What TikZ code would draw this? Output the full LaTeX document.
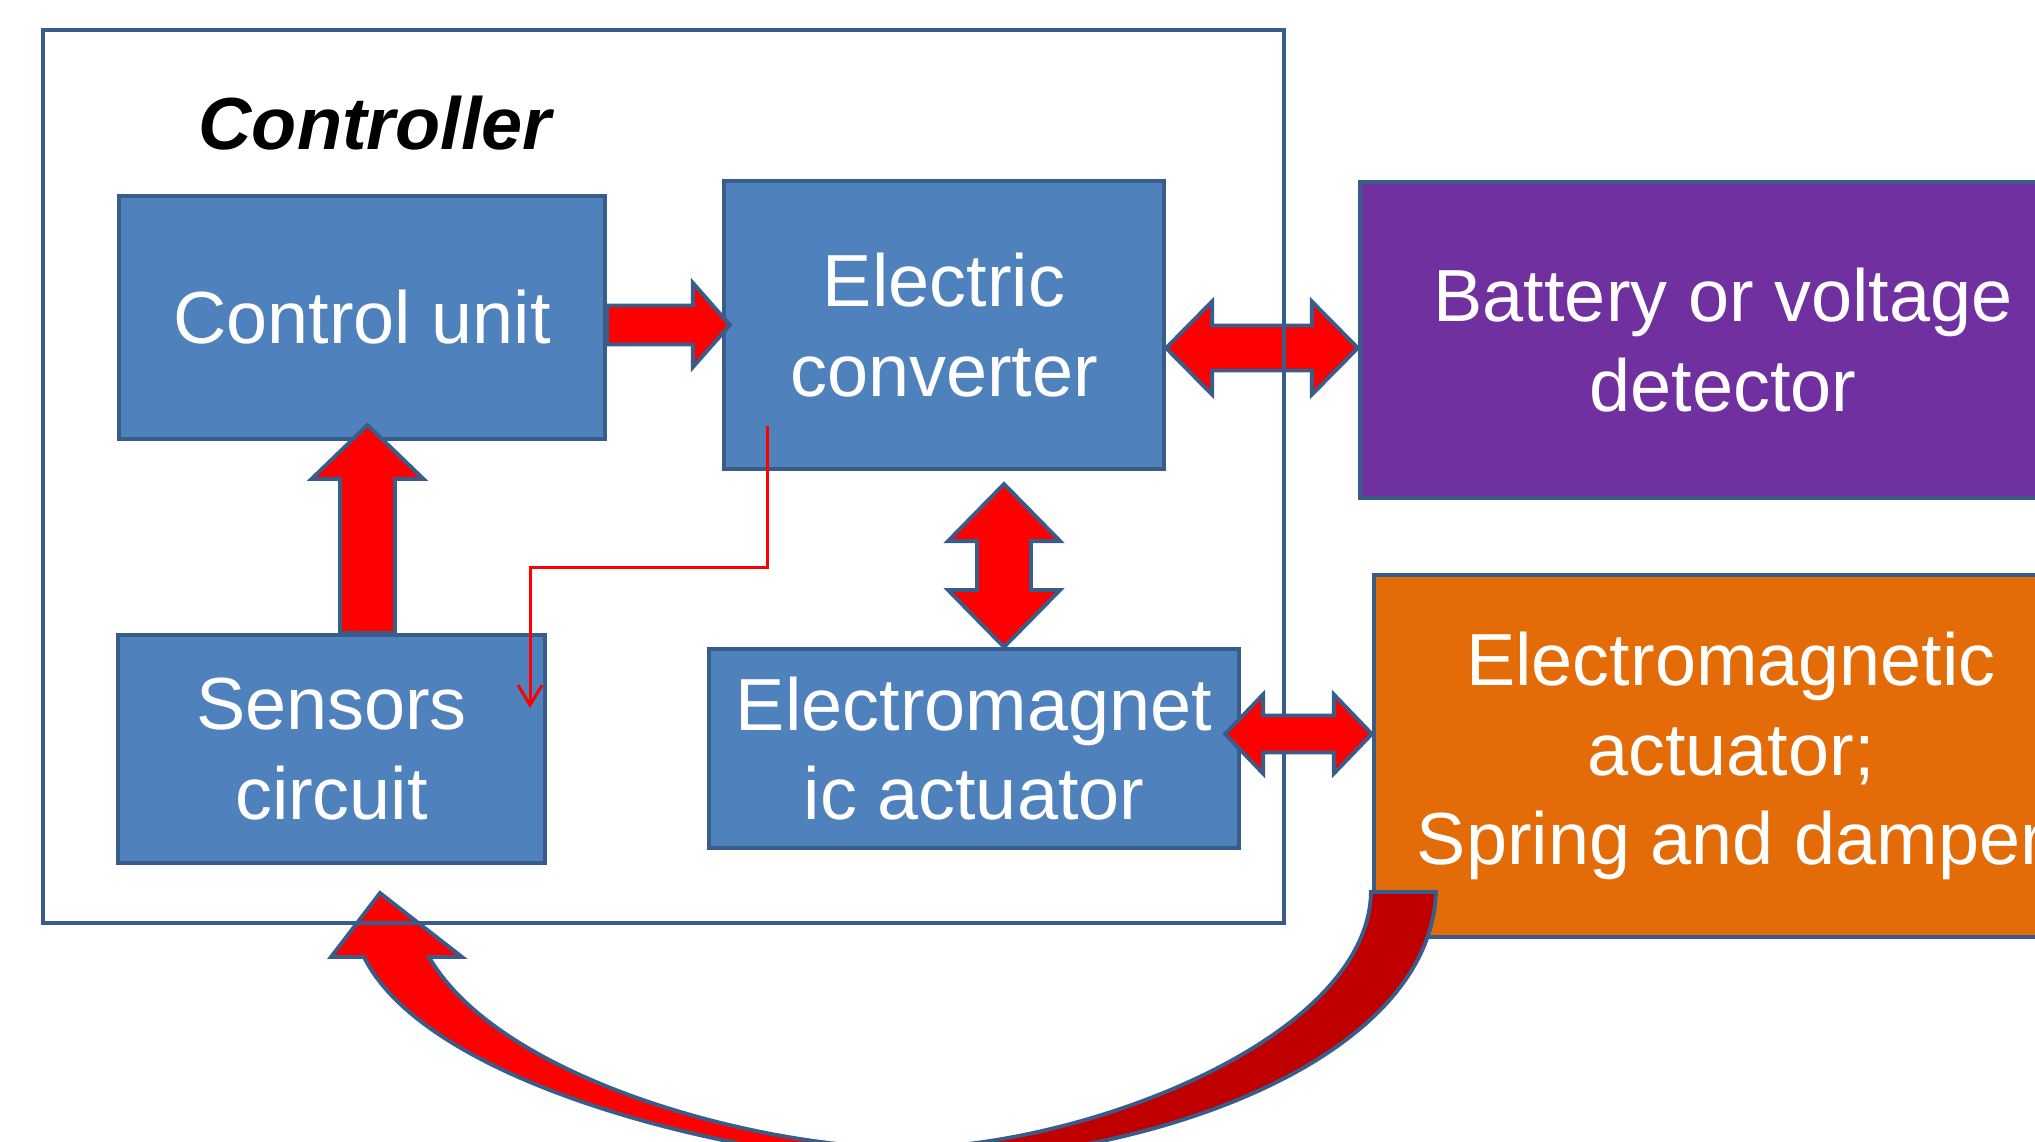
\documentclass[tikz,border=0pt]{standalone}
\usepackage{fontspec}
\setmainfont{Liberation Sans}
\usetikzlibrary{calc,arrows.meta}

\definecolor{boxblue}{HTML}{4F81BD}
\definecolor{edge}{HTML}{385D8A}
\definecolor{batpurple}{HTML}{7030A0}
\definecolor{actorange}{HTML}{E36C09}
\definecolor{darkred}{HTML}{C00000}

\tikzset{
  box/.style={draw=edge, line width=1.1pt, fill=boxblue, text=white, align=center,
    inner sep=0pt, font=\fontsize{21}{25.5}\selectfont},
  % block arrow: shaft half width / head half width / head length
  fatarrow/.style n args={3}{draw=edge, fill=red, line width=1.1pt, line join=miter,
    to path={($(\tikztostart)!#1!90:(\tikztotarget)$)
      -- ($(\tikztotarget)!#3!(\tikztostart)!#1!90:(\tikztotarget)$)
      -- ($(\tikztotarget)!#3!(\tikztostart)!#2!90:(\tikztotarget)$)
      -- (\tikztotarget)
      -- ($(\tikztotarget)!#3!(\tikztostart)!#2!-90:(\tikztotarget)$)
      -- ($(\tikztotarget)!#3!(\tikztostart)!#1!-90:(\tikztotarget)$)
      -- ($(\tikztostart)!#1!-90:(\tikztotarget)$) -- cycle}},
  fatboth/.style n args={3}{draw=edge, fill=red, line width=1.1pt, line join=miter,
    to path={(\tikztostart)
      -- ($(\tikztostart)!#3!(\tikztotarget)!#2!90:(\tikztotarget)$)
      -- ($(\tikztostart)!#3!(\tikztotarget)!#1!90:(\tikztotarget)$)
      -- ($(\tikztotarget)!#3!(\tikztostart)!#1!90:(\tikztotarget)$)
      -- ($(\tikztotarget)!#3!(\tikztostart)!#2!90:(\tikztotarget)$)
      -- (\tikztotarget)
      -- ($(\tikztotarget)!#3!(\tikztostart)!#2!-90:(\tikztotarget)$)
      -- ($(\tikztotarget)!#3!(\tikztostart)!#1!-90:(\tikztotarget)$)
      -- ($(\tikztostart)!#3!(\tikztotarget)!#1!-90:(\tikztotarget)$)
      -- ($(\tikztostart)!#3!(\tikztotarget)!#2!-90:(\tikztotarget)$) -- cycle}},
  signal/.style={draw=red, line width=0.85pt, -{Straight Barb[length=0.2cm,width=0.24cm]}}
}

\begin{document}
\begin{tikzpicture}[x=0.01cm,y=-0.01cm]
  \useasboundingbox (0,0) rectangle (2035,1141);

  % Blocks
  \node[box, minimum width=4.86cm, minimum height=2.43cm] (cu) at (362,317.5) {Control unit};
  \node[box, minimum width=4.40cm, minimum height=2.88cm] (ec) at (944,325) {Electric\\converter};
  \node[box, minimum width=4.27cm, minimum height=2.28cm] (su) at (331.5,749) {Sensors\\circuit};
  \node[box, minimum width=5.30cm, minimum height=1.99cm] (em) at (974,748.5) {Electromagnet\\ic actuator};
  \node[box, fill=batpurple, minimum width=7.26cm, minimum height=3.16cm] (bat) at (1723,340) {Battery or voltage\\detector};
  \node[box, fill=actorange, minimum width=7.14cm, minimum height=3.62cm] (act) at (1731,756) {Electromagnetic\\actuator;\\Spring and damper};

  % Block arrows
  \coordinate (ecL) at ([xshift=0.08cm]ec.west);
  \draw[fatarrow={0.195cm}{0.42cm}{0.37cm}] (cu.east |- ecL) to (ecL);

  \coordinate (suT) at ([xshift=0.36cm]su.north);
  \coordinate (cuB) at ([yshift=0.16cm]cu.south);
  \draw[fatarrow={0.275cm}{0.56cm}{0.54cm}] (suT) to (suT |- cuB);

  \coordinate (ecB) at ([xshift=0.6cm,yshift=-0.13cm]ec.south);
  \draw[fatboth={0.27cm}{0.56cm}{0.57cm}] (ecB) to (ecB |- em.north);

  \coordinate (ecR) at ([yshift=-0.23cm]ec.east);
  \draw[fatboth={0.225cm}{0.465cm}{0.46cm}] (ecR) to (ecR -| bat.west);

  % Signal line
  \coordinate (sigA) at ([xshift=0.46cm,yshift=0.45cm]ec.south west);
  \coordinate (sigB) at ([xshift=-0.17cm,yshift=-0.75cm]su.north east);
  \draw[signal] (sigA) |- ($(sigA)!0.5!(sigB)$) -| (sigB);

  % Feedback arrow
  \fill[red] (380,893) -- (462,957) -- (429,957)
    .. controls (500,1080) and (760,1148) .. (905,1148) -- (905,1162)
    .. controls (760,1162) and (430,1090) .. (364,957) -- (331,957) -- cycle;
  \fill[darkred] (905,1148) .. controls (1080,1148) and (1368,1040) .. (1371,892)
    -- (1436,892) .. controls (1430,1060) and (1150,1162) .. (905,1162) -- cycle;
  \draw[edge, line width=1.1pt, line join=miter] (380,893) -- (462,957) -- (429,957)
    .. controls (500,1080) and (760,1148) .. (905,1148)
    .. controls (1080,1148) and (1368,1040) .. (1371,892) -- (1436,892)
    .. controls (1430,1060) and (1150,1162) .. (905,1162)
    .. controls (760,1162) and (430,1090) .. (364,957) -- (331,957) -- cycle;

  % Controller frame
  \node[draw=edge, line width=1.1pt, inner sep=0pt, minimum width=12.41cm, minimum height=8.93cm] (ctrl) at (663.5,476.5) {};
  \node[font=\fontsize{21}{25}\selectfont\bfseries\itshape] (ctrllbl) at (375,123) {Controller};

  \coordinate (emR) at ([xshift=-0.16cm,yshift=0.145cm]em.east);
  \draw[fatboth={0.185cm}{0.395cm}{0.38cm}] (emR) to (emR -| act.west);
\end{tikzpicture}
\end{document}
